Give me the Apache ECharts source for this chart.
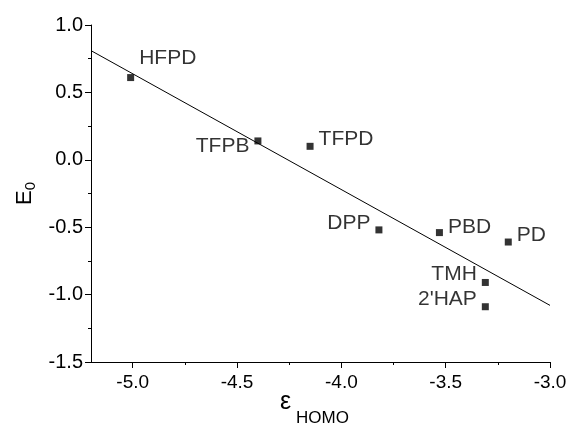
<!DOCTYPE html>
<html>

<head>
    <meta charset="utf-8">
    <title>E0 vs HOMO</title>
    <script src="https://cdn.jsdelivr.net/npm/echarts@6/dist/echarts.min.js"></script>
</head>

<body style="margin:0">
    <div id="main" style="width: 569px;height: 424px;"></div>
    <script type="text/javascript">
    // data
    var names = ['HFPD', 'TFPB', 'TFPD', 'DPP', 'PBD', 'PD', 'TMH', "2'HAP"];
    var homo = [-5.01, -4.40, -4.15, -3.82, -3.53, -3.20, -3.31, -3.31];
    var e0 = [0.61, 0.14, 0.10, -0.52, -0.54, -0.61, -0.91, -1.09];
    var fitX = [-5.2, -3.0];
    var fitY = [0.81, -1.08];
    var xTicks = [-5.0, -4.5, -4.0, -3.5, -3.0];
    var xMinorTicks = [-4.75, -4.25, -3.75, -3.25];

    // where each label sits relative to its point
    var labelPlace = {
        'HFPD': ['right', [0, -19]],
        'TFPB': ['left', [0, 5]],
        'TFPD': ['right', [0, -7]],
        'DPP': ['left', [0, -7]],
        'PBD': ['right', [0, -5]],
        'PD': ['right', [0, -7]],
        'TMH': ['left', [0, -8]],
        "2'HAP": ['left', [0, -8]]
    };

    var font = 'Liberation Sans, Arial, sans-serif';
    var myChart = echarts.init(document.getElementById('main'));

    var points = names.map(function (n, i) {
        return {
            value: [homo[i], e0[i]],
            name: n,
            label: { position: labelPlace[n][0], offset: labelPlace[n][1] }
        };
    });

    var xCommon = {
        type: 'value',
        min: -5.2,
        max: -3.0,
        position: 'bottom',
        splitLine: { show: false }
    };

    var option = {
        animation: false,
        backgroundColor: '#fff',
        grid: { left: 91, right: 19, top: 25, bottom: 62, outerBoundsMode: 'none' },
        xAxis: [
            Object.assign({}, xCommon, {
                name: '{e|ε}{s| HOMO}',
                nameLocation: 'middle',
                nameGap: 28,
                nameMoveOverlap: false,
                nameTextStyle: {
                    rich: {
                        e: { fontFamily: font, fontSize: 25, color: '#000', padding: [0, 0, 12, 0] },
                        s: { fontFamily: font, fontSize: 17, color: '#000', verticalAlign: 'bottom', padding: [10, 12, 0, 0] }
                    }
                },
                axisLine: { onZero: false, lineStyle: { color: '#000', width: 1 } },
                axisTick: { customValues: xTicks, inside: false, length: 6, lineStyle: { color: '#000' } },
                axisLabel: {
                    customValues: xTicks,
                    color: '#000', fontFamily: font, fontSize: 19, margin: 11,
                    formatter: function (v) { return v.toFixed(1); }
                }
            }),
            Object.assign({}, xCommon, {
                axisLine: { show: false, onZero: false },
                axisTick: { customValues: xMinorTicks, length: 3, lineStyle: { color: '#000' } },
                axisLabel: { show: false }
            })
        ],
        yAxis: {
            type: 'value',
            min: -1.5,
            max: 1.0,
            interval: 0.5,
            name: '{e|E}{s|0}',
            nameLocation: 'middle',
            nameGap: 53,
            nameMoveOverlap: false,
            nameRotate: 90,
            nameTextStyle: {
                rich: {
                    e: { fontFamily: font, fontSize: 22, color: '#000' },
                    s: { fontFamily: font, fontSize: 15, color: '#000', padding: [12, 0, 0, 0] }
                }
            },
            splitLine: { show: false },
            axisLine: { show: true, onZero: false, lineStyle: { color: '#000', width: 1 } },
            axisTick: { show: true, length: 6, lineStyle: { color: '#000' } },
            minorTick: { show: true, splitNumber: 2, length: 3, lineStyle: { color: '#000' } },
            axisLabel: {
                color: '#000', fontFamily: font, fontSize: 20, margin: 8,
                formatter: function (v) { return v.toFixed(1); }
            }
        },
        series: [
            {
                type: 'line',
                data: fitX.map(function (x, i) { return [x, fitY[i]]; }),
                showSymbol: false,
                lineStyle: { color: '#000', width: 1 },
                silent: true
            },
            {
                type: 'scatter',
                data: points,
                symbol: 'rect',
                symbolSize: 7,
                itemStyle: { color: '#000' },
                label: {
                    show: true,
                    formatter: '{b}',
                    color: '#000',
                    fontFamily: font,
                    fontSize: 21,
                    distance: 5
                }
            }
        ]
    };

    myChart.setOption(option);
    </script>
</body>

</html>
